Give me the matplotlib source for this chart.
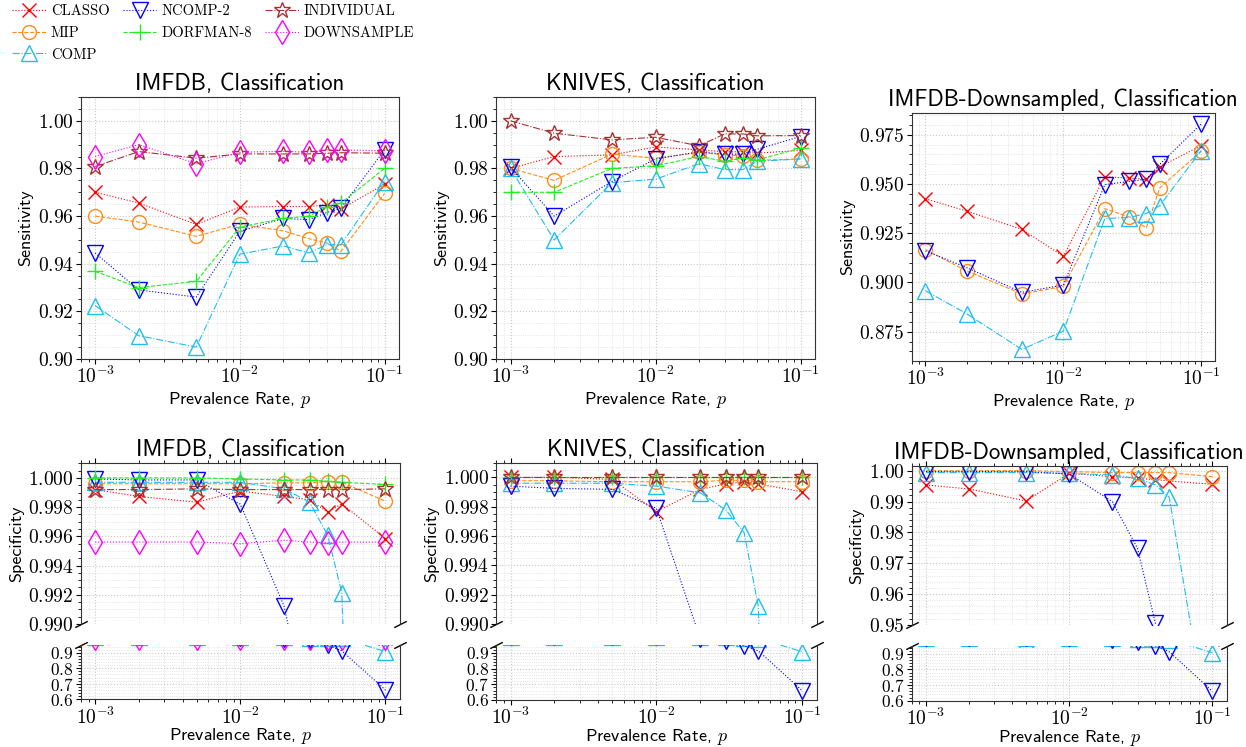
import numpy as np
import matplotlib.pyplot as plt
from matplotlib.ticker import MultipleLocator

plt.rcParams['mathtext.fontset'] = 'cm'
plt.rcParams['font.family'] = 'cmr10'
plt.rcParams['axes.formatter.use_mathtext'] = True
plt.rcParams['axes.unicode_minus'] = False

# prevalence rates
p = [0.001, 0.002, 0.005, 0.01, 0.02, 0.03, 0.04, 0.05, 0.1]

# --- sensitivity ---
imfdb_sens = {
    'CLasso':     [0.970, 0.9655, 0.9565, 0.9638, 0.964, 0.964, 0.9648, 0.963, 0.9734],
    'Mip':        [0.960, 0.9575, 0.9515, 0.9566, 0.9538, 0.9505, 0.9487, 0.9452, 0.9695],
    'Comp':       [0.9224, 0.9098, 0.905, 0.944, 0.9475, 0.9445, 0.948, 0.948, 0.9745],
    'NComp-2':    [0.9445, 0.929, 0.926, 0.9536, 0.959, 0.9585, 0.9615, 0.9633, 0.9878],
    'Dorfman-8':  [0.9368, 0.930, 0.9326, 0.9554, 0.959, 0.960, 0.964, 0.9655, 0.980],
    'Individual': [0.9808, 0.9871, 0.9843, 0.9861, 0.9861, 0.9861, 0.9864, 0.9866, 0.9864],
    'Downsample': [0.985, 0.9900, 0.9820, 0.9868, 0.9872, 0.9868, 0.9878, 0.9878, 0.9874],
}
knives_sens = {
    'CLasso':     [0.980, 0.985, 0.9857, 0.989, 0.9878, 0.987, 0.987, 0.9864, 0.9876],
    'Mip':        [0.980, 0.975, 0.986, 0.9843, 0.9867, 0.9857, 0.9853, 0.9834, 0.984],
    'Comp':       [0.980, 0.950, 0.974, 0.9755, 0.982, 0.9795, 0.9795, 0.983, 0.984],
    'NComp-2':    [0.9805, 0.960, 0.9745, 0.984, 0.987, 0.986, 0.986, 0.988, 0.9934],
    'Dorfman-8':  [0.970, 0.970, 0.980, 0.9811, 0.985, 0.983, 0.9843, 0.9836, 0.9885],
    'Individual': [1.000, 0.9948, 0.992, 0.9931, 0.9895, 0.9945, 0.9945, 0.9937, 0.9938],
}
down_sens = {
    'CLasso':  [0.9425, 0.9362, 0.927, 0.9133, 0.9537, 0.953, 0.9525, 0.9587, 0.9695],
    'Mip':     [0.9167, 0.9058, 0.8942, 0.898, 0.9375, 0.9333, 0.9278, 0.948, 0.9667],
    'Comp':    [0.8958, 0.884, 0.866, 0.8753, 0.9325, 0.933, 0.935, 0.939, 0.967],
    'NComp-2': [0.916, 0.9075, 0.895, 0.8987, 0.9497, 0.9513, 0.9525, 0.960, 0.9805],
}

# --- specificity ---
imfdb_spec = {
    'CLasso':     [0.9992, 0.99873, 0.99834, 0.9991, 0.99873, 0.9985, 0.99766, 0.99823, 0.99584],
    'Mip':        [0.9996, 0.9996, 0.9996, 0.9996, 0.99966, 0.99966, 0.99975, 0.9997, 0.9984],
    'Comp':       [0.9997, 0.9997, 0.9997, 0.9997, 0.99925, 0.99834, 0.99607, 0.99214, 0.908],
    'NComp-2':    [0.99993, 0.99986, 0.99986, 0.9982, 0.99123, 0.983, 0.948, 0.913, 0.66],
    'Dorfman-8':  [1.0, 1.0, 1.0, 0.99993, 0.99986, 0.99986, 0.99977, 0.9997, 0.99955],
    'Individual': [0.9992, 0.9992, 0.99925, 0.9992, 0.9992, 0.9992, 0.9992, 0.9992, 0.99925],
    'Downsample': [0.99561, 0.99561, 0.99561, 0.9955, 0.99573, 0.99561, 0.99556, 0.99561, 0.9956],
}
knives_spec = {
    'CLasso':     [1.0, 1.0, 0.99986, 0.99766, 0.99918, 0.99955, 0.9997, 0.99955, 0.99902],
    'Mip':        [0.99977, 0.99977, 0.9997, 0.9997, 0.9997, 0.9998, 0.9998, 0.9997, 0.9997],
    'Comp':       [0.9996, 0.9996, 0.9996, 0.9994, 0.99895, 0.99777, 0.99623, 0.99123, 0.908],
    'NComp-2':    [0.9994, 0.99925, 0.99918, 0.99789, 0.989, 0.975, 0.945, 0.913, 0.66],
    'Dorfman-8':  [1.0, 1.0, 1.0, 1.0, 1.0, 1.0, 1.0, 1.0, 1.0],
    'Individual': [1.0, 1.0, 1.0, 1.0, 1.0, 1.0, 1.0, 1.0, 1.0],
}
down_spec = {
    'CLasso':  [0.99536, 0.99406, 0.99017, 0.99914, 0.99806, 0.99752, 0.9971, 0.99665, 0.99557],
    'Mip':     [1.0, 1.0, 1.0, 0.9997, 0.99935, 0.99935, 0.99935, 0.99935, 0.99806],
    'Comp':    [0.99935, 0.99935, 0.99935, 0.9991, 0.9986, 0.9975, 0.99536, 0.99136, 0.908],
    'NComp-2': [0.9997, 0.9997, 0.9997, 0.9989, 0.98996, 0.97484, 0.95054, 0.913, 0.66],
}

legend_names = {'CLasso': 'CLASSO', 'Mip': 'MIP', 'Comp': 'COMP', 'NComp-2': 'NCOMP-2',
                'Dorfman-8': 'DORFMAN-8', 'Individual': 'INDIVIDUAL', 'Downsample': 'DOWNSAMPLE'}

styles = {
    'CLasso':     dict(color='red', ls=':', marker='x', ms=10),
    'Mip':        dict(color='#ff8c1a', ls='--', marker='o', ms=10),
    'Comp':       dict(color='#1ebef0', ls='-.', marker='^', ms=11),
    'NComp-2':    dict(color='blue', ls=':', marker='v', ms=11),
    'Dorfman-8':  dict(color='#22ee22', ls='--', marker='+', ms=12),
    'Individual': dict(color='#a83232', ls='-.', marker='*', ms=12),
    'Downsample': dict(color='magenta', ls=':', marker='d', ms=12),
}

W, H = 1246, 747
fig = plt.figure(figsize=(W / 100, H / 100), dpi=100)


def rect(x0, y0, x1, y1):
    return [x0 / W, 1 - y1 / H, (x1 - x0) / W, (y1 - y0) / H]


def draw(ax, data):
    for name, vals in data.items():
        st = styles[name]
        ax.plot(p, vals, color=st['color'], ls=st['ls'], lw=0.8, marker=st['marker'],
                ms=st['ms'], mfc='none', mec=st['color'], mew=1.0, label=legend_names[name])


def style(ax, size=14):
    ax.set_xscale('log')
    ax.minorticks_on()
    ax.grid(which='major', ls=':', color='#c8c8c8', lw=0.8)
    ax.grid(which='minor', ls=':', color='#dddddd', lw=0.6)
    ax.tick_params(labelsize=size, pad=1.5)
    for s in ax.spines.values():
        s.set_color('#333333')


title_kw = dict(fontfamily='cmss10', fontsize=16.5)
lab_kw = dict(fontfamily='cmss10', fontsize=13)

# top row
top_rects = [(80.7, 97, 399, 359), (496, 97, 815, 359), (911.7, 112.7, 1215, 360.7)]
top_data = [imfdb_sens, knives_sens, down_sens]
titles = ['IMFDB, Classification', 'KNIVES, Classification', 'IMFDB-Downsampled, Classification']
for i in range(3):
    ax = fig.add_axes(rect(*top_rects[i]))
    draw(ax, top_data[i])
    style(ax)
    if i < 2:
        ax.set_ylim(0.90, 1.01)
        ax.yaxis.set_major_locator(MultipleLocator(0.02))
    else:
        ax.yaxis.set_major_locator(MultipleLocator(0.025))
    ax.set_title(titles[i], pad=5, **title_kw)
    ax.set_ylabel('Sensitivity', labelpad=3, **lab_kw)
    ax.set_xlabel(r'Prevalence Rate, $p$', labelpad=2, **lab_kw)
    if i == 0:
        handles, labels = ax.get_legend_handles_labels()

# bottom row (broken axes)
hi_rects = [(80.7, 463.3, 400, 624), (496, 462.7, 816.7, 624), (911.7, 466, 1226.7, 625)]
lo_rects = [(80.7, 645, 400, 699.3), (496, 645, 816.7, 700), (911.7, 646, 1226.7, 700.7)]
bot_data = [imfdb_spec, knives_spec, down_spec]
for i in range(3):
    ax_hi = fig.add_axes(rect(*hi_rects[i]))
    ax_lo = fig.add_axes(rect(*lo_rects[i]), sharex=ax_hi)
    draw(ax_hi, bot_data[i])
    style(ax_hi)
    draw(ax_lo, bot_data[i])
    style(ax_lo)
    ax_lo.tick_params(axis='y', labelsize=12.5)
    if i < 2:
        ax_hi.set_ylim(0.990, 1.001)
        ax_hi.yaxis.set_major_locator(MultipleLocator(0.002))
    else:
        ax_hi.set_ylim(0.950, 1.0015)
        ax_hi.yaxis.set_major_locator(MultipleLocator(0.01))
    ax_lo.set_ylim(0.6, 0.95)
    ax_lo.yaxis.set_major_locator(MultipleLocator(0.1))
    ax_hi.spines['bottom'].set_visible(False)
    ax_lo.spines['top'].set_visible(False)
    ax_hi.xaxis.tick_top()
    ax_hi.tick_params(labeltop=False)
    ax_lo.xaxis.tick_bottom()
    d = 0.5
    kw = dict(marker=[(-1, -d), (1, d)], markersize=9, linestyle='none', color='k',
              mec='k', mew=1, clip_on=False)
    ax_hi.plot([0, 1], [0, 0], transform=ax_hi.transAxes, **kw)
    ax_lo.plot([0, 1], [1, 1], transform=ax_lo.transAxes, **kw)
    ax_hi.set_title(titles[i], pad=5, **title_kw)
    ax_hi.set_ylabel('Specificity', labelpad=3, **lab_kw)
    ax_lo.set_xlabel(r'Prevalence Rate, $p$', labelpad=-1, **lab_kw)

fig.legend(handles, labels, loc='upper left', bbox_to_anchor=(0.004, 1.004), ncol=3,
           frameon=False, prop={'family': 'cmr10', 'size': 10.5}, handlelength=2.3,
           columnspacing=0.9, labelspacing=0.55, handletextpad=0.35, borderaxespad=0.1)

fig.savefig('out.png', dpi=100)
